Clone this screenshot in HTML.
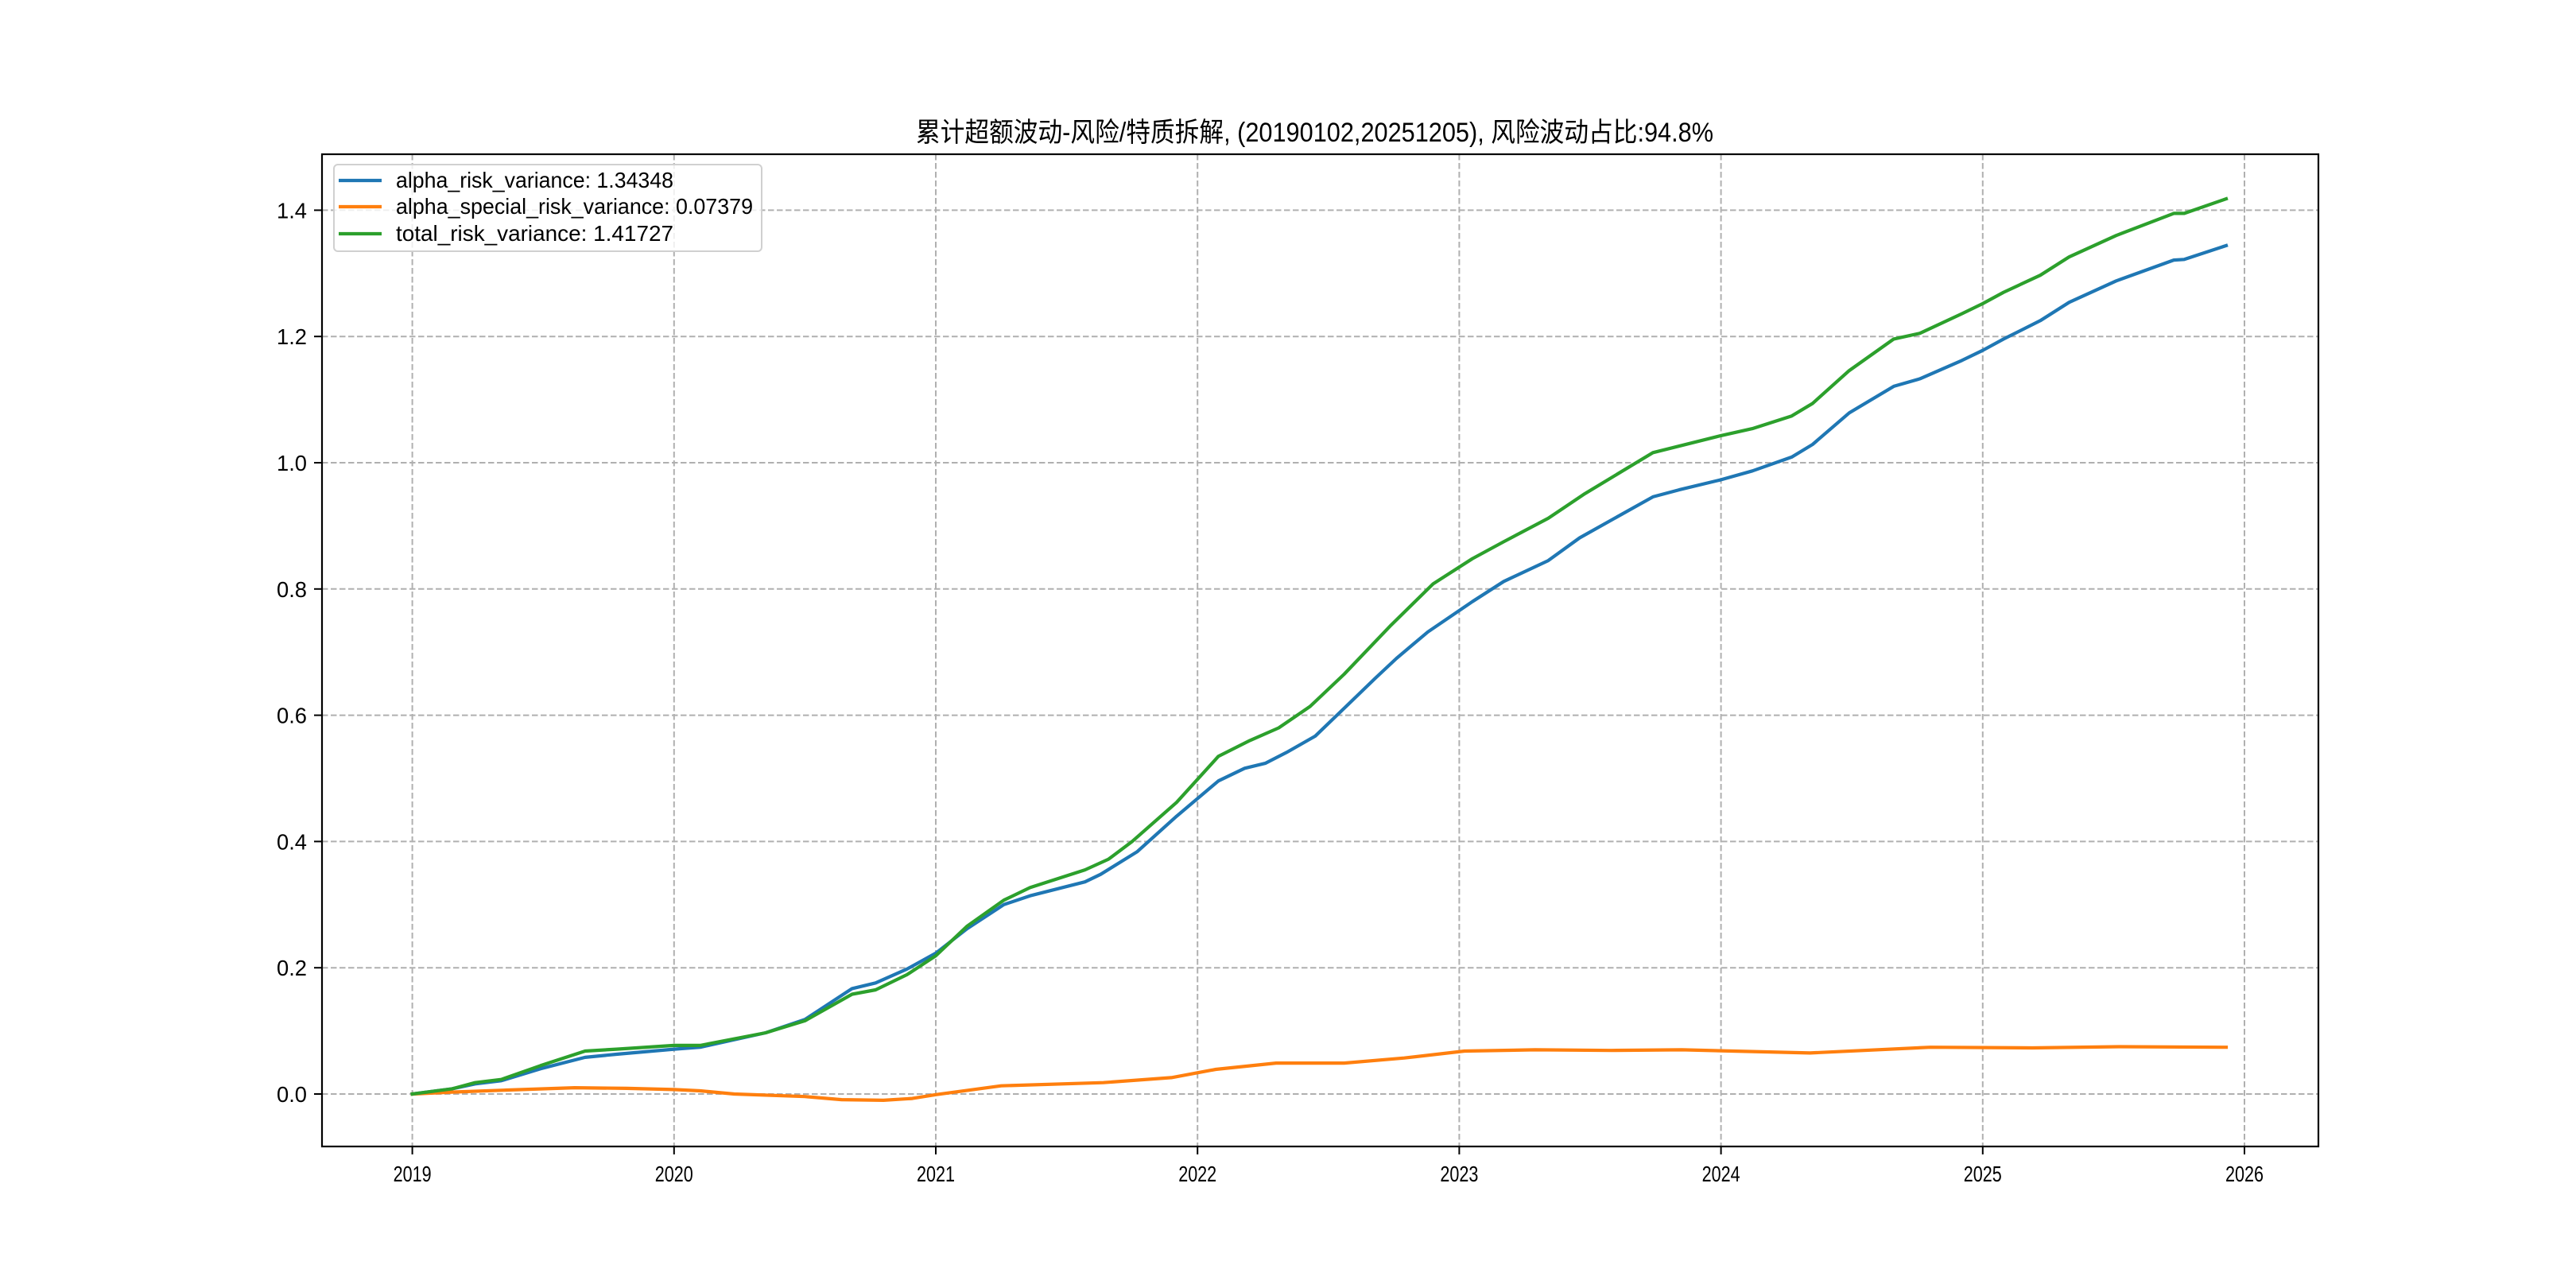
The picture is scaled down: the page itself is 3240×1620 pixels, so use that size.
<!DOCTYPE html>
<html><head><meta charset="utf-8">
<style>
html,body{margin:0;padding:0;background:#fff;}
svg{display:block;}
text{font-family:"Liberation Sans","WenQuanYi Zen Hei","Noto Sans CJK SC",sans-serif;fill:#000;}
</style></head>
<body>
<svg id="chart" width="3240" height="1620" viewBox="0 0 3240 1620" xmlns="http://www.w3.org/2000/svg">
<rect x="0" y="0" width="3240" height="1620" fill="#fff"/>
<text x="1152" y="178" font-size="34" textLength="1003" lengthAdjust="spacingAndGlyphs">累计超额波动-风险/特质拆解, (20190102,20251205), 风险波动占比:94.8%</text>
<g id="grid"></g>
<g id="series"></g>
<rect x="405" y="194" width="2511" height="1248" fill="none" stroke="#000" stroke-width="2.2"/>
<g id="ticks"></g>
<g>
<rect x="420" y="207" width="538" height="109" rx="5" fill="#fff" fill-opacity="0.8" stroke="#d0d0d0" stroke-width="2"/>
<line x1="426" y1="227" x2="480" y2="227" stroke="#1f77b4" stroke-width="4.2"/>
<text x="498" y="236" font-size="28" textLength="349" lengthAdjust="spacingAndGlyphs">alpha_risk_variance: 1.34348</text>
<line x1="426" y1="260" x2="480" y2="260" stroke="#ff7f0e" stroke-width="4.2"/>
<text x="498" y="269" font-size="28" textLength="449" lengthAdjust="spacingAndGlyphs">alpha_special_risk_variance: 0.07379</text>
<line x1="426" y1="294" x2="480" y2="294" stroke="#2ca02c" stroke-width="4.2"/>
<text x="498" y="303" font-size="28" textLength="349" lengthAdjust="spacingAndGlyphs">total_risk_variance: 1.41727</text>
</g>
</svg>
<script>
const xTicks = [2019,2020,2021,2022,2023,2024,2025,2026];
const yTicks = [0.0,0.2,0.4,0.6,0.8,1.0,1.2,1.4];
const yTickLabels = ["0.0","0.2","0.4","0.6","0.8","1.0","1.2","1.4"];
const blueT = [2019,2019.15,2019.24,2019.34,2019.49,2019.66,2019.78,2020.0,2020.1,2020.35,2020.5,2020.68,2020.77,2020.89,2021.0,2021.12,2021.26,2021.36,2021.57,2021.63,2021.77,2021.92,2022.08,2022.18,2022.26,2022.34,2022.45,2022.56,2022.68,2022.76,2022.88,2023.05,2023.17,2023.34,2023.46,2023.74,2023.84,2024.0,2024.12,2024.27,2024.35,2024.49,2024.66,2024.76,2024.92,2025.0,2025.08,2025.22,2025.33,2025.51,2025.73,2025.77,2025.93];
const blueV = [0,0.008,0.016,0.021,0.040,0.058,0.063,0.071,0.074,0.097,0.118,0.167,0.176,0.198,0.223,0.262,0.300,0.314,0.336,0.348,0.384,0.440,0.496,0.516,0.524,0.541,0.567,0.611,0.659,0.690,0.732,0.780,0.812,0.845,0.881,0.946,0.957,0.973,0.987,1.009,1.029,1.079,1.121,1.133,1.162,1.178,1.196,1.225,1.254,1.288,1.321,1.322,1.344];
const greenT = [2019,2019.15,2019.24,2019.34,2019.49,2019.66,2019.78,2020.0,2020.1,2020.35,2020.5,2020.68,2020.77,2020.89,2021.0,2021.12,2021.26,2021.36,2021.57,2021.66,2021.75,2021.92,2022.08,2022.2,2022.31,2022.43,2022.56,2022.74,2022.9,2023.05,2023.17,2023.34,2023.48,2023.74,2024.0,2024.12,2024.27,2024.35,2024.49,2024.66,2024.76,2024.92,2025.0,2025.08,2025.22,2025.33,2025.51,2025.73,2025.77,2025.93];
const greenV = [0,0.008,0.018,0.023,0.045,0.068,0.071,0.077,0.077,0.097,0.116,0.158,0.165,0.189,0.219,0.266,0.307,0.327,0.355,0.372,0.400,0.462,0.535,0.560,0.580,0.614,0.665,0.743,0.808,0.848,0.875,0.912,0.951,1.016,1.043,1.054,1.074,1.094,1.146,1.196,1.205,1.236,1.252,1.270,1.297,1.326,1.360,1.395,1.395,1.418];
const orangeT = [2019,2019.15,2019.35,2019.62,2019.82,2020.0,2020.1,2020.23,2020.5,2020.64,2020.8,2020.91,2021.0,2021.25,2021.64,2021.9,2022.07,2022.3,2022.56,2022.79,2023.02,2023.29,2023.58,2023.85,2024.34,2024.8,2025.19,2025.52,2025.93];
const orangeV = [0,0.003,0.006,0.010,0.009,0.007,0.005,0.0,-0.004,-0.009,-0.010,-0.007,-0.001,0.013,0.018,0.026,0.039,0.049,0.049,0.057,0.068,0.070,0.069,0.070,0.065,0.074,0.073,0.075,0.074];

const NS = "http://www.w3.org/2000/svg";
const X0 = 518.6, XPER = 329.2, Y0 = 1376, YPER = 794;
function xs(t){ return X0 + (t-2019)*XPER; }
function ys(v){ return Y0 - v*YPER; }
function mk(tag, attrs, parent){
  const e = document.createElementNS(NS, tag);
  for (const k in attrs) e.setAttribute(k, attrs[k]);
  parent.appendChild(e); return e;
}
const grid = document.getElementById('grid');
const ticks = document.getElementById('ticks');
const series = document.getElementById('series');
xTicks.forEach(t => {
  const x = xs(t);
  const g = mk('line', {x1:x, y1:194, x2:x, y2:1442, stroke:'#b0b0b0', 'stroke-width':2, 'stroke-dasharray':'7.5,3.5'}, grid);
  
  
  const tk = mk('line', {x1:x, y1:1442, x2:x, y2:1452, stroke:'#000', 'stroke-width':2}, ticks);
  
  
  const lb = mk('text', {x:x, y:1486, 'font-size':28, 'text-anchor':'middle', textLength:48, lengthAdjust:'spacingAndGlyphs'}, ticks);
  lb.textContent = String(t);
  
  
});
yTicks.forEach((v,i) => {
  const y = ys(v);
  const g = mk('line', {x1:405, y1:y, x2:2916, y2:y, stroke:'#b0b0b0', 'stroke-width':2, 'stroke-dasharray':'7.5,3.5'}, grid);
  
  
  const tk = mk('line', {x1:395, y1:y, x2:405, y2:y, stroke:'#000', 'stroke-width':2}, ticks);
  
  
  const lb = mk('text', {x:386, y:y+10, 'font-size':28, 'text-anchor':'end', textLength:38, lengthAdjust:'spacingAndGlyphs'}, ticks);
  lb.textContent = yTickLabels[i];
  
  
});
function drawLine(T, V, color, name){
  const d = T.map((t,i) => (i?'L':'M') + xs(t).toFixed(1) + ',' + ys(V[i]).toFixed(1)).join(' ');
  const p = mk('path', {d:d, fill:'none', stroke:color, 'stroke-width':4.2, 'stroke-linejoin':'round', 'stroke-linecap':'square'}, series);
  
  
}
drawLine(blueT, blueV, '#1f77b4', 'alpha-risk-variance-line');
drawLine(orangeT, orangeV, '#ff7f0e', 'alpha-special-risk-variance-line');
drawLine(greenT, greenV, '#2ca02c', 'total-risk-variance-line');
</script>
</body></html>
